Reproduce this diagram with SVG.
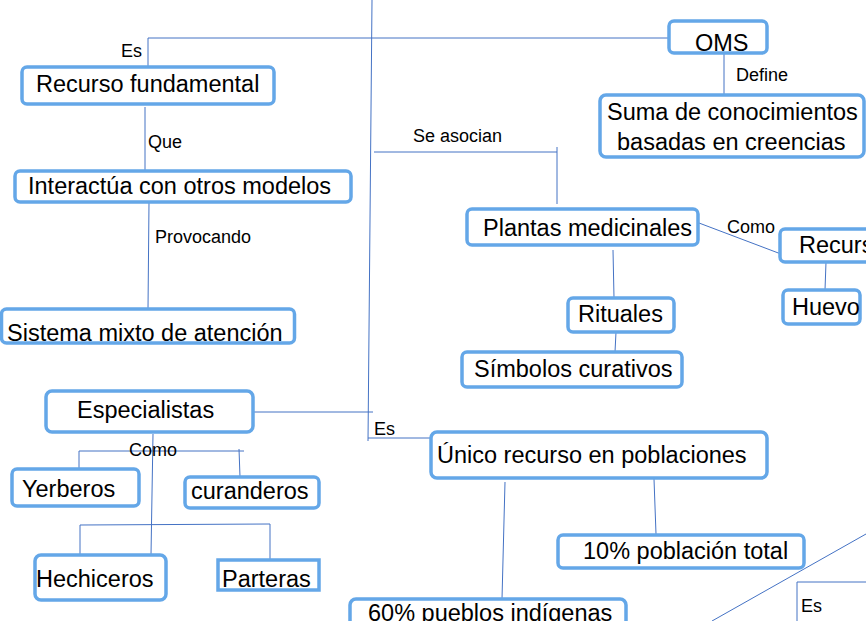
<svg xmlns="http://www.w3.org/2000/svg" width="866" height="621" viewBox="0 0 866 621">
<style>
.box{fill:#fff;stroke:#64a7e8;stroke-width:3.5}
.t{font-family:"Liberation Sans",Arial,sans-serif;font-size:23.5px;fill:#000}
.l{font-family:"Liberation Sans",Arial,sans-serif;font-size:18px;fill:#000}
.c{stroke:#4472c4;stroke-width:1;fill:none}
</style>
<rect width="866" height="621" fill="#fff"/>
<g id="connectors">
<polyline class="c" points="372,0 368,441"/>
<polyline class="c" points="148,68 148,38 669,38"/>
<line class="c" x1="724" y1="53" x2="724" y2="94"/>
<polyline class="c" points="374,152 557,152 557,204"/>
<line class="c" x1="557" y1="147" x2="557" y2="152"/>
<line class="c" x1="699" y1="223" x2="781" y2="254"/>
<line class="c" x1="826" y1="262" x2="825" y2="290"/>
<line class="c" x1="613" y1="250" x2="614" y2="298"/>
<line class="c" x1="616" y1="332" x2="615" y2="352"/>
<line class="c" x1="145" y1="107" x2="145" y2="171"/>
<line class="c" x1="149" y1="202" x2="148" y2="309"/>
<line class="c" x1="253" y1="412" x2="373" y2="412"/>
<line class="c" x1="368" y1="438" x2="430" y2="438"/>
<line class="c" x1="505" y1="482" x2="502" y2="599"/>
<line class="c" x1="654" y1="479" x2="656" y2="534"/>
<line class="c" x1="712" y1="621" x2="866" y2="534"/>
<polyline class="c" points="797,621 797,582 866,582"/>
<line class="c" x1="153" y1="434" x2="151" y2="555"/>
<polyline class="c" points="79,469 79,451 244,451"/>
<line class="c" x1="239" y1="449" x2="240" y2="477"/>
<polyline class="c" points="80,555 80,525 270,524 270,560"/>
</g>
<g id="oms"><rect class="box" x="669" y="21" width="98" height="32" rx="5"/><text class="t" x="695" y="51">OMS</text></g>
<g id="recurso-fundamental"><rect class="box" x="22" y="67" width="252" height="37" rx="5"/><text class="t" x="36" y="92">Recurso fundamental</text></g>
<g id="suma"><rect class="box" x="600" y="95" width="264" height="62" rx="6"/><text class="t" x="607" y="120">Suma de conocimientos</text><text class="t" x="617" y="150">basadas en creencias</text></g>
<g id="interactua"><rect class="box" x="15" y="171" width="336" height="31" rx="5"/><text class="t" x="28" y="194">Interactúa con otros modelos</text></g>
<g id="plantas"><rect class="box" x="467" y="209" width="231" height="36" rx="5"/><text class="t" x="483" y="236">Plantas medicinales</text></g>
<g id="recurs"><rect class="box" x="780" y="229" width="100" height="33" rx="5"/><text class="t" x="799" y="253">Recurs</text></g>
<g id="huevo"><rect class="box" x="783" y="290" width="77" height="34" rx="5"/><text class="t" x="792" y="315">Huevo</text></g>
<g id="rituales"><rect class="box" x="568" y="298" width="106" height="34" rx="5"/><text class="t" x="578" y="322">Rituales</text></g>
<g id="sistema"><rect class="box" x="1.5" y="309" width="293" height="34" rx="5"/><text class="t" x="7" y="341">Sistema mixto de atención</text></g>
<g id="simbolos"><rect class="box" x="462" y="352" width="220" height="35" rx="5"/><text class="t" x="474" y="377">Símbolos curativos</text></g>
<g id="especialistas"><rect class="box" x="46" y="391" width="207" height="41" rx="6"/><text class="t" x="77" y="418">Especialistas</text></g>
<g id="unico"><rect class="box" x="431" y="432" width="336" height="46" rx="6"/><text class="t" x="437" y="463">Único recurso en poblaciones</text></g>
<g id="yerberos"><rect class="box" x="12" y="469" width="127" height="37" rx="5"/><text class="t" x="22" y="497">Yerberos</text></g>
<g id="curanderos"><rect class="box" x="185" y="477" width="134" height="31" rx="5"/><text class="t" x="191" y="499">curanderos</text></g>
<g id="diez"><rect class="box" x="558" y="535" width="246" height="33" rx="5"/><text class="t" x="583" y="559">10% población total</text></g>
<g id="hechiceros"><rect class="box" x="35" y="555" width="131" height="45" rx="6"/><text class="t" x="36" y="587">Hechiceros</text></g>
<g id="parteras"><rect class="box" x="218" y="560" width="101" height="30"/><text class="t" x="222" y="587">Parteras</text></g>
<g id="sesenta"><rect class="box" x="350" y="599" width="276" height="40" rx="6"/><text class="t" x="368" y="621">60% pueblos indígenas</text></g>
<g id="labels">
<text class="l" x="121" y="57">Es</text>
<text class="l" x="736" y="81">Define</text>
<text class="l" x="413" y="142">Se asocian</text>
<text class="l" x="148" y="148">Que</text>
<text class="l" x="727" y="233">Como</text>
<text class="l" x="155" y="243">Provocando</text>
<text class="l" x="374" y="435">Es</text>
<text class="l" x="129" y="456">Como</text>
<text class="l" x="801" y="612">Es</text>
</g>
</svg>
